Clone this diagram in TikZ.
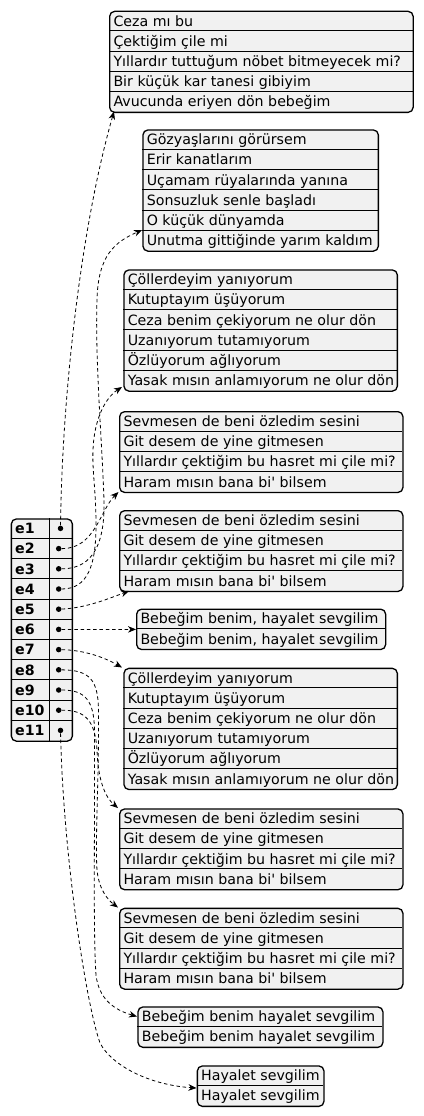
\documentclass[tikz,border=0pt]{standalone}
\usepackage{fontspec}
\setmainfont{DejaVu Sans}
\usetikzlibrary{arrows.meta}
\definecolor{boxfill}{HTML}{F1F1F1}
\tikzset{
  boxframe/.style={draw=black, line width=1.3pt, rounded corners=5pt, fill=boxfill},
  rowline/.style={draw=black, line width=0.9pt},
  rowtext/.style={anchor=base west, inner sep=0pt, font=\fontsize{14.2}{16}\selectfont},
  keytext/.style={anchor=base west, inner sep=0pt, font=\fontsize{14.2}{16}\selectfont\bfseries},
  dotnode/.style={circle, fill=black, inner sep=0pt, minimum size=5.5pt},
  link/.style={draw=black, line width=0.8pt, dash pattern=on 3.5pt off 2.8pt,
    -{Stealth[length=8pt,width=6.5pt,inset=2.5pt]}},
}
\newcommand\rh{20.2}
\newcommand\jbox[6]{%
  \pgfmathsetmacro\jw{#3-#2}%
  \pgfmathsetmacro\jh{#5*\rh}%
  \node[boxframe, anchor=north west, inner sep=0pt, minimum width=\jw pt, minimum height=\jh pt] (#1) at (#2,#4) {};
  \foreach \t [count=\i] in {#6} {%
    \pgfmathsetmacro\ry{#4+(\i-1)*\rh}%
    \ifnum\i>1 \draw[rowline] (#2,\ry) -- (#3,\ry);\fi
    \node[rowtext] (#1r\i) at ({#2+4.3},{\ry+15.4}) {\t};
  }%
}
\begin{document}
\begin{tikzpicture}[x=1pt,y=-1pt]
\useasboundingbox (0,0) rectangle (423,1116);

\jbox{B1}{109}{412.5}{10.7}{5}{Ceza mı bu, Çektiğim çile mi, Yıllardır tuttuğum nöbet bitmeyecek mi?, Bir küçük kar tanesi gibiyim, Avucunda eriyen dön bebeğim}
\jbox{B2}{142.3}{377.7}{129.3}{6}{Gözyaşlarını görürsem, Erir kanatlarım, Uçamam rüyalarında yanına, Sonsuzluk senle başladı, O küçük dünyamda, Unutma gittiğinde yarım kaldım}
\jbox{B3}{123.3}{396.7}{269.3}{6}{Çöllerdeyim yanıyorum, Kutuptayım üşüyorum, Ceza benim çekiyorum ne olur dön, Uzanıyorum tutamıyorum, Özlüyorum ağlıyorum, Yasak mısın anlamıyorum ne olur dön}
\jbox{B4}{119}{402.3}{411}{4}{Sevmesen de beni özledim sesini, Git desem de yine gitmesen, Yıllardır çektiğim bu hasret mi çile mi?, Haram mısın bana bi\textquotesingle{} bilsem}
\jbox{B5}{119}{402.3}{510}{4}{Sevmesen de beni özledim sesini, Git desem de yine gitmesen, Yıllardır çektiğim bu hasret mi çile mi?, Haram mısın bana bi\textquotesingle{} bilsem}
\jbox{B6}{136}{385}{608.5}{2}{{Bebeğim benim, hayalet sevgilim}, {Bebeğim benim, hayalet sevgilim}}
\jbox{B7}{123.3}{396.7}{667.7}{6}{Çöllerdeyim yanıyorum, Kutuptayım üşüyorum, Ceza benim çekiyorum ne olur dön, Uzanıyorum tutamıyorum, Özlüyorum ağlıyorum, Yasak mısın anlamıyorum ne olur dön}
\jbox{B8}{119}{402.3}{808.3}{4}{Sevmesen de beni özledim sesini, Git desem de yine gitmesen, Yıllardır çektiğim bu hasret mi çile mi?, Haram mısın bana bi\textquotesingle{} bilsem}
\jbox{B9}{119}{402.3}{907.7}{4}{Sevmesen de beni özledim sesini, Git desem de yine gitmesen, Yıllardır çektiğim bu hasret mi çile mi?, Haram mısın bana bi\textquotesingle{} bilsem}
\jbox{B10}{137.3}{382.3}{1006.3}{2}{Bebeğim benim hayalet sevgilim, Bebeğim benim hayalet sevgilim}
\jbox{B11}{196.7}{323.3}{1065.3}{2}{Hayalet sevgilim, Hayalet sevgilim}

% key box
\node[boxframe, anchor=north west, inner sep=0pt, minimum width=61pt, minimum height=222.2pt] (K) at (10.7,518.3) {};
\draw[rowline] (49.3,518.3) -- (49.3,740.5);
\foreach \i in {1,...,11} {%
  \pgfmathsetmacro\ry{518.3+(\i-1)*\rh}%
  \ifnum\i>1 \draw[rowline] (10.7,\ry) -- (71.7,\ry);\fi
  \node[keytext] (k\i) at (15,{\ry+15.4}) {e\i};
}
\foreach \i in {1,11} \node[dotnode] (d\i) at (60.5,{528.4+(\i-1)*\rh}) {};
\foreach \i in {2,...,10} \node[dotnode] (d\i) at (58.7,{528.4+(\i-1)*\rh}) {};

% arrow targets
\coordinate (t1) at (114,111.5);
\coordinate (t2) at (118.5,492);
\coordinate (t3) at (142,230);
\coordinate (t4) at (122,387);
\coordinate (t5) at (129,591);
\coordinate (t6) at (136,629.4);
\coordinate (t7) at (122,667.5);
\coordinate (t8) at (118,907.5);
\coordinate (t9) at (137,1016.5);
\coordinate (t10) at (118,808);
\coordinate (t11) at (196.5,1088);

\draw[link] (d1) .. controls (62,400) and (80,230) .. (t1);
\draw[link] (d2) .. controls (95,549) and (100,510) .. (t2);
\draw[link] (d3) .. controls (95,569) and (105,540) .. (104,500) .. controls (102,440) and (95,360) .. (97,300) .. controls (98,255) and (115,242) .. (t3);
\draw[link] (d4) .. controls (88,589) and (96,565) .. (96,525) .. controls (96,490) and (92,470) .. (93,450) .. controls (94,420) and (105,398) .. (t4);
\draw[link] (d5) .. controls (85,608) and (105,600) .. (t5);
\draw[link] (d6) -- (t6);
\draw[link] (d7) .. controls (80,650) and (100,655) .. (t7);
\draw[link] (d8) .. controls (90,670) and (98,680) .. (98.5,710) .. controls (99,780) and (95,840) .. (97,870) .. controls (99,890) and (108,900) .. (t8);
\draw[link] (d9) .. controls (85,690) and (94,700) .. (94.5,730) .. controls (95,830) and (93,930) .. (96,975) .. controls (99,1000) and (115,1010) .. (t9);
\draw[link] (d10) .. controls (85,710) and (95,720) .. (97,750) .. controls (98,780) and (105,797) .. (t10);
\draw[link] (d11) .. controls (63,850) and (85,1000) .. (100,1043) .. controls (112,1066) and (150,1085) .. (t11);
\end{tikzpicture}
\end{document}
